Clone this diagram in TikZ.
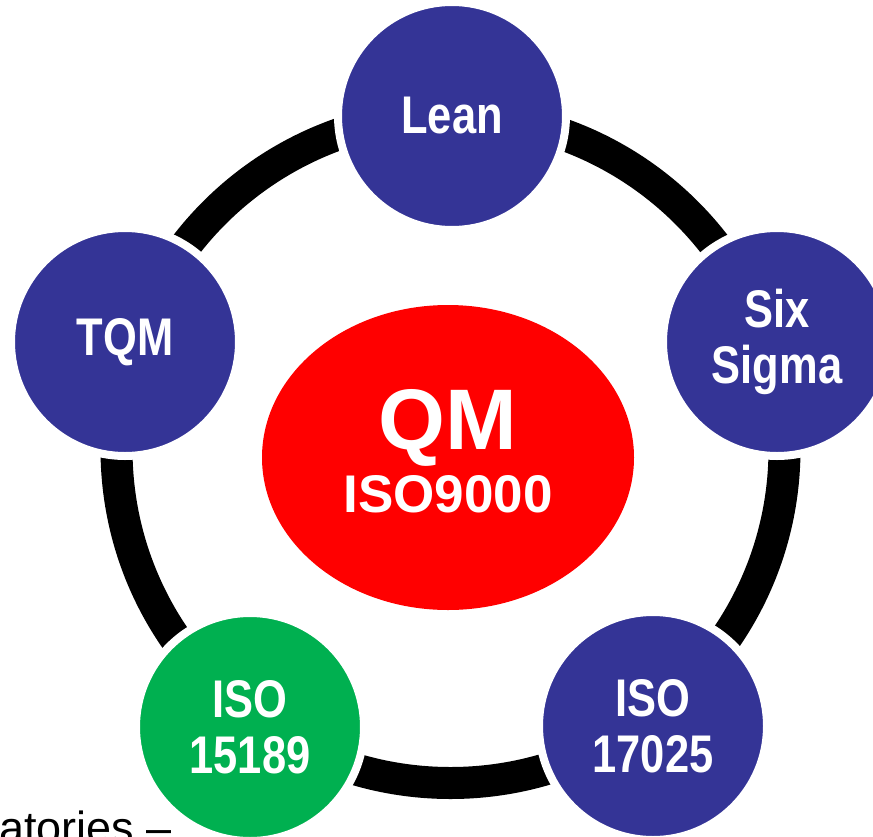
\documentclass[tikz,border=0pt]{standalone}
\usepackage{fontspec}
\setmainfont{Liberation Sans}
\newfontfamily\narrowsans[FakeStretch=0.82]{Liberation Sans}
\usetikzlibrary{shapes.geometric}
\definecolor{discblue}{RGB}{52,52,150}
\definecolor{discgreen}{RGB}{0,176,80}
\definecolor{corered}{RGB}{255,0,0}
\tikzset{
  disc/.style={circle, minimum size=228pt, inner sep=0pt, draw=white,
    line width=8pt, fill=discblue, text=white, align=center,
    font=\narrowsans\bfseries\fontsize{53}{56}\selectfont},
  ringline/.style={draw=black, line width=32pt},
  core/.style={ellipse, fill=corered, minimum width=372pt,
    minimum height=305pt, inner sep=0pt},
  coretext/.style={text=white, align=center, inner sep=0pt,
    font=\bfseries\fontsize{53}{63}\selectfont},
  note/.style={text=black, inner sep=0pt, font=\fontsize{45}{50}\selectfont},
}
\begin{document}
\begin{tikzpicture}[x=1pt,y=-1pt]
\useasboundingbox (0,0) rectangle (873,836);
\clip (0,0) rectangle (873,836);
% the black ring that links the five methods
\coordinate (hub) at (450.5,449);
\draw[ringline] (hub) circle[radius=334pt];
% the five methods around the ring
\node[disc] (lean) at (452,116) {Lean};
\node[disc] (sixsigma) at (777,342) {Six\\Sigma};
\node[disc] (tqm) at (125,342) {TQM};
\node[disc, fill=discgreen] (iso15189) at (250,727) {ISO\\15189};
\node[disc] (iso17025) at (653,726) {ISO\\17025};
% quality management at the centre
\node[core] (qm) at (448,457.5) {};
\node[coretext] (qmlabel) at (448,451) {{\fontsize{86}{63}\selectfont QM}\\ISO9000};
% running text at the lower left
\node[note, anchor=base west] (footnote) at (-1,843) {atories –};
\end{tikzpicture}
\end{document}
